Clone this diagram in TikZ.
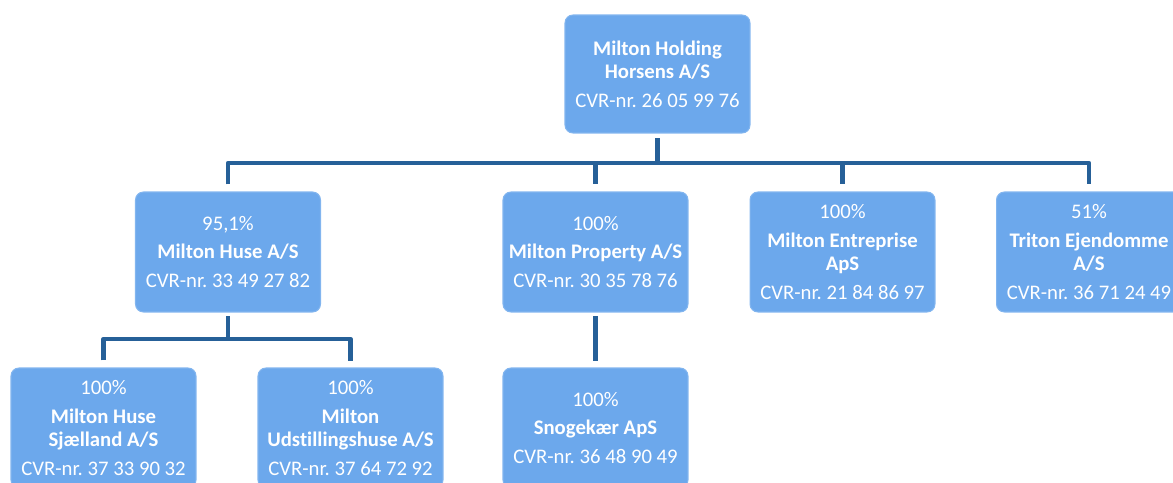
\documentclass[tikz,border=0pt]{standalone}
\usepackage{fontspec}
\setmainfont[Ligatures=NoCommon]{Carlito}
\usepackage{xcolor}
\definecolor{boxblue}{RGB}{108,168,236}
\definecolor{linkblue}{RGB}{38,96,152}
\frenchspacing

\tikzset{
  firm/.style={draw=boxblue!85!white, line width=0.6pt, fill=boxblue, rounded corners=4.5pt, minimum width=3.7cm, minimum height=2.4cm, align=center, text=white, font=\fontsize{11.8}{13}\selectfont, inner sep=2pt},
  link/.style={draw=linkblue, line width=2.7pt, line join=round}
}

\begin{document}
\begin{tikzpicture}[x=0.02cm, y=-0.02cm]

\useasboundingbox (0,0) rectangle (1173,483);

\node[firm, minimum height=2.36cm] (hold) at (657.5, 74) {\textbf{Milton Holding}\\\textbf{Horsens A/S}\\[3.5pt]CVR-nr. 26 05 99 76};

\node[firm] (huse) at (228, 252) {95,1\%\\[3.5pt]\textbf{Milton Huse A/S}\\[3.5pt]CVR-nr. 33 49 27 82};
\node[firm] (property) at (595.5, 252) {100\%\\[3.5pt]\textbf{Milton Property A/S}\\[3.5pt]CVR-nr. 30 35 78 76};
\node[firm] (entreprise) at (842.5, 252) {100\%\\[3.5pt]\textbf{Milton Entreprise}\\\textbf{ApS}\\[3.5pt]CVR-nr. 21 84 86 97};
\node[firm] (triton) at (1089, 252) {51\%\\[3.5pt]\textbf{Triton Ejendomme}\\\textbf{A/S}\\[3.5pt]CVR-nr. 36 71 24 49};

\node[firm] (sjaelland) at (103.5, 428) {100\%\\[3.5pt]\textbf{Milton Huse}\\\textbf{Sjælland A/S}\\[3.5pt]CVR-nr. 37 33 90 32};
\node[firm] (udstilling) at (350.5, 428) {100\%\\[3.5pt]\textbf{Milton}\\\textbf{Udst\kern0pt illingshuse A/S}\\[3.5pt]CVR-nr. 37 64 72 92};
\node[firm] (snogekaer) at (595.5, 428) {100\%\\[3.5pt]\textbf{Snogekær ApS}\\[3.5pt]CVR-nr. 36 48 90 49};

\coordinate (bus) at (657.5, 163);
\coordinate (subbus) at (228, 339);

\draw[link, shorten <=2.8pt] (hold.south) -- (bus);
\draw[link, shorten <=4pt, shorten >=4pt] (huse.north) |- (bus) -| (triton.north);
\draw[link, shorten >=4pt] (property.north |- bus) -- (property.north);
\draw[link, shorten >=4pt] (entreprise.north |- bus) -- (entreprise.north);

\draw[link, shorten <=2pt] (huse.south) -- (subbus);
\draw[link, shorten <=4pt, shorten >=3.5pt] (sjaelland.north) |- (subbus) -| (udstilling.north);

\draw[link, shorten <=2pt, shorten >=3.5pt] (property.south) -- (snogekaer.north);

\end{tikzpicture}
\end{document}
